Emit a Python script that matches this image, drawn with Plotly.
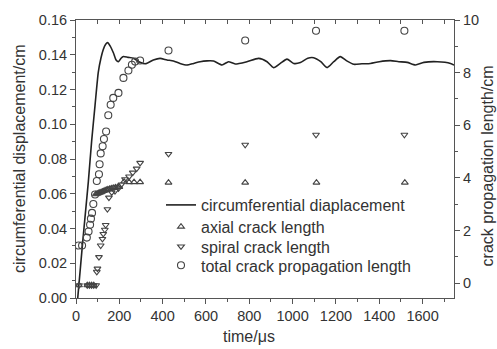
import plotly.graph_objects as go

# circumferential displacement (left axis, cm) vs time (µs)
disp_t = [8, 30, 45, 57, 72, 88, 103, 115, 126, 137, 146, 158, 173, 185, 196, 208, 219, 240, 265, 290, 320,
          357, 388, 420, 450, 480, 512, 543, 573, 605, 635, 674, 704, 735, 789, 843, 882, 912, 943, 974,
          1005, 1036, 1070, 1097, 1130, 1159, 1190, 1220, 1250, 1282, 1320, 1359, 1400, 1452, 1490, 1529,
          1567, 1606, 1668, 1729, 1745]
disp_v = [0.000, 0.031, 0.051, 0.067, 0.090, 0.111, 0.130, 0.138, 0.143, 0.146, 0.147, 0.145, 0.141, 0.137,
          0.136, 0.138, 0.139, 0.1385, 0.138, 0.136, 0.1348, 0.137, 0.1379, 0.137, 0.1364, 0.135, 0.1341,
          0.135, 0.136, 0.1365, 0.1364, 0.1341, 0.136, 0.1347, 0.136, 0.1379, 0.136, 0.1326, 0.135, 0.1375,
          0.135, 0.1355, 0.138, 0.1383, 0.136, 0.1326, 0.136, 0.1389, 0.1365, 0.1345, 0.1348, 0.135, 0.136,
          0.1366, 0.136, 0.1356, 0.1341, 0.1356, 0.136, 0.135, 0.134]

# axial crack length (right axis, cm)
axial_t = [14, 52, 62, 72, 82, 92, 98, 104, 110, 116, 122, 128, 134, 140, 147, 155, 163, 172, 182, 192, 200,
           222, 245, 268, 296, 427, 781, 1110, 1518]
axial_r = [-0.08, -0.08, -0.08, -0.08, -0.08, 3.38, 3.40, 3.42, 3.44, 3.46, 3.48, 3.50, 3.52, 3.54, 3.56,
           3.58, 3.60, 3.62, 3.64, 3.65, 3.66, 3.86, 3.84, 3.84, 3.84, 3.82, 3.82, 3.82, 3.82]

# spiral crack length (right axis, cm)
spiral_t = [14, 52, 62, 72, 82, 93, 96, 99, 106, 114, 122, 126, 133, 137, 145, 152, 165, 180, 196, 210, 226,
            245, 262, 280, 296, 427, 781, 1108, 1516]
spiral_r = [-0.08, -0.08, -0.08, -0.08, -0.08, -0.08, 0.43, 0.55, 0.99, 1.43, 1.68, 1.87, 2.03, 2.21, 2.81,
            3.25, 3.45, 3.50, 3.60, 3.75, 3.95, 4.05, 4.20, 4.35, 4.57, 4.91, 5.26, 5.64, 5.64]

# total crack propagation length (right axis, cm)
total_t = [12, 28, 50, 58, 65, 69, 74, 80, 88, 96, 106, 109, 114, 123, 129, 139, 149, 160, 172, 196, 219, 242,
           258, 273, 296, 427, 781, 1108, 1516]
total_r = [1.43, 1.43, 1.73, 1.96, 2.22, 2.45, 2.67, 3.01, 3.37, 3.88, 4.14, 4.52, 4.93, 5.20, 5.48, 5.76,
           6.38, 6.78, 7.04, 7.23, 7.80, 8.08, 8.30, 8.42, 8.46, 8.84, 9.22, 9.59, 9.59]

legend_names = ["circumferential diaplacement", "axial crack length", "spiral crack length",
                "total crack propagation length"]

FONT = "Arial, Liberation Sans, sans-serif"
TXT = "#333333"
AX = "#555555"
MK = "#444444"

fig = go.Figure()
fig.add_trace(go.Scatter(x=disp_t, y=disp_v, mode="lines", name=legend_names[0],
                         line=dict(color="#222222", width=1.6, shape="spline", smoothing=0.6),
                         yaxis="y", legend="legend"))
fig.add_trace(go.Scatter(x=axial_t, y=axial_r, mode="markers", name=legend_names[1],
                         marker=dict(symbol="triangle-up-open", size=6, color=MK, line=dict(width=1.1)),
                         yaxis="y2", legend="legend2"))
fig.add_trace(go.Scatter(x=spiral_t, y=spiral_r, mode="markers", name=legend_names[2],
                         marker=dict(symbol="triangle-down-open", size=6, color=MK, line=dict(width=1.1)),
                         yaxis="y2", legend="legend3"))
fig.add_trace(go.Scatter(x=total_t, y=total_r, mode="markers", name=legend_names[3],
                         marker=dict(symbol="circle-open", size=7, color=MK, line=dict(width=1.1)),
                         yaxis="y2", legend="legend4"))
# helper so the top (mirror) axis is drawn
fig.add_trace(go.Scatter(x=[0], y=[0], xaxis="x2", yaxis="y", mode="markers",
                         marker=dict(opacity=0), showlegend=False, hoverinfo="skip"))

XR = [0, 1745]
PLOT_TOP, PLOT_BOT, PLOT_L, PLOT_W = 17, 298, 76, 378


def py(px):
    return (PLOT_BOT - px) / (PLOT_BOT - PLOT_TOP)


def px_x(px):
    return (px - PLOT_L) / PLOT_W


def leg(ypx):
    return dict(x=px_x(161), y=py(ypx), xanchor="left", yanchor="middle",
                bgcolor="rgba(0,0,0,0)", font=dict(size=16, color=TXT, family=FONT), itemwidth=30)


fig.update_layout(
    width=497, height=349,
    margin=dict(l=76, r=43, t=17, b=51),
    paper_bgcolor="white", plot_bgcolor="white",
    font=dict(family=FONT, color=TXT, size=15),
    showlegend=True,
    legend=leg(204), legend2=leg(226), legend3=leg(246), legend4=leg(265),
    xaxis=dict(range=XR, tick0=0, dtick=200, ticks="outside", ticklen=5, tickcolor=AX,
               showline=True, linecolor=AX, linewidth=1, showgrid=False, zeroline=False,
               tickfont=dict(size=14.5, color=TXT),
               minor=dict(dtick=100, ticks="outside", ticklen=3, tickcolor=AX)),
    xaxis2=dict(range=XR, overlaying="x", side="top", tick0=0, dtick=100, ticks="inside",
                ticklen=4, tickcolor=AX, showticklabels=False, showline=True, linecolor=AX,
                linewidth=1, showgrid=False, zeroline=False),
    yaxis=dict(range=[0, 0.16], tick0=0, dtick=0.02, tickformat=".2f", ticks="outside", ticklen=5,
               tickcolor=AX, showline=True, linecolor=AX, linewidth=1, showgrid=False, zeroline=False,
               tickfont=dict(size=14.5, color=TXT),
               minor=dict(dtick=0.01, ticks="outside", ticklen=3, tickcolor=AX)),
    yaxis2=dict(range=[-0.565, 10], overlaying="y", side="right", tick0=0, dtick=2, ticks="outside",
                ticklen=5, tickcolor=AX, showline=True, linecolor=AX, linewidth=1, showgrid=False,
                zeroline=False, tickfont=dict(size=14.5, color=TXT),
                minor=dict(dtick=1, ticks="outside", ticklen=3, tickcolor=AX)),
    annotations=[
        dict(text="time/μs", xref="paper", yref="paper", x=px_x(249), y=py(337),
             xanchor="center", yanchor="middle", showarrow=False, font=dict(size=16, color=TXT)),
        dict(text="circumferential displacement/cm", xref="paper", yref="paper", x=px_x(19),
             y=py(157.5), xanchor="center", yanchor="middle", textangle=-90, showarrow=False,
             font=dict(size=16, color=TXT)),
        dict(text="crack propagation length/cm", xref="paper", yref="paper", x=px_x(487),
             y=py(164), xanchor="center", yanchor="middle", textangle=-90, showarrow=False,
             font=dict(size=16, color=TXT)),
    ],
)

# the page body has a default 8px margin; remove it so the figure fills the window exactly
fig.write_html("out.html", config={"displayModeBar": False},
               post_script="document.body.style.margin='0px';document.body.style.overflow='hidden';")
